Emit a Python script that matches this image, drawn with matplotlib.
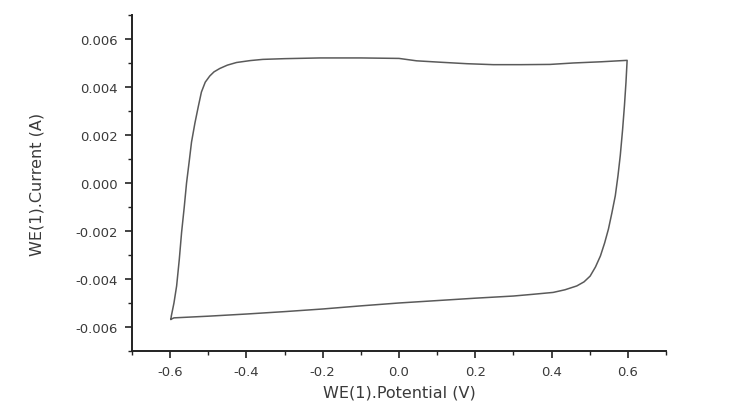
import matplotlib.pyplot as plt
from matplotlib.ticker import MultipleLocator

# Cyclic voltammogram (one closed loop)
potential = [-0.598, -0.597, -0.590, -0.583, -0.576, -0.570, -0.563, -0.557, -0.550,
             -0.544, -0.535, -0.526, -0.518, -0.508, -0.496, -0.485, -0.470, -0.450,
             -0.426, -0.390, -0.357, -0.300, -0.207, -0.100, 0.000, 0.046,
             0.110, 0.178, 0.247, 0.320, 0.396, 0.457, 0.530, 0.598,
             0.595, 0.591, 0.586, 0.580, 0.574, 0.567, 0.558, 0.549, 0.539,
             0.528, 0.515, 0.501, 0.485, 0.466, 0.435, 0.404, 0.350,
             0.300, 0.200, 0.100, 0.000, -0.100, -0.200, -0.300, -0.400, -0.500,
             -0.590, -0.598]
current = [-0.00568, -0.00555, -0.00500, -0.00429, -0.00318, -0.00206, -0.00100, 0.00000, 0.00090,
           0.00170, 0.00250, 0.00320, 0.00379, 0.00420, 0.00446, 0.00463, 0.00477, 0.00491,
           0.00502, 0.00510, 0.00515, 0.00518, 0.00521, 0.00521, 0.00519, 0.00509,
           0.00503, 0.00497, 0.00493, 0.00493, 0.00494, 0.00500, 0.00505, 0.00511,
           0.00420, 0.00323, 0.00220, 0.00114, 0.00030, -0.00053, -0.00125, -0.00192, -0.00250,
           -0.00304, -0.00350, -0.00388, -0.00412, -0.00429, -0.00445, -0.00456, -0.00464,
           -0.00471, -0.00480, -0.00490, -0.00500, -0.00512, -0.00525, -0.00536, -0.00546, -0.00555,
           -0.00562, -0.00568]

xticks = [-0.6, -0.4, -0.2, 0.0, 0.2, 0.4, 0.6]
yticks = [-0.006, -0.004, -0.002, 0.000, 0.002, 0.004, 0.006]

plt.rcParams['font.family'] = ['DejaVu Sans']

fig = plt.figure(figsize=(7.56, 4.14), dpi=100)
ax = fig.add_axes([0.1746, 0.1498, 0.7064, 0.8116])

ax.plot(potential, current, color='#5a5a5a', lw=1.1)

ax.set_xlim(-0.7, 0.7)
ax.set_ylim(-0.007, 0.007)
ax.set_xticks(xticks)
ax.set_yticks(yticks)
ax.set_xticklabels(['%.1f' % v for v in xticks])
ax.set_yticklabels(['%.3f' % v for v in yticks])
ax.xaxis.set_minor_locator(MultipleLocator(0.1))
ax.yaxis.set_minor_locator(MultipleLocator(0.001))

ax.spines['top'].set_visible(False)
ax.spines['right'].set_visible(False)
for s in ['left', 'bottom']:
    ax.spines[s].set_linewidth(1.4)
    ax.spines[s].set_color('#222222')

ax.tick_params(which='major', direction='out', length=5, width=1.2, colors='#222222',
               labelsize=9.5, labelcolor='#3a3a3a', pad=5)
ax.tick_params(which='minor', direction='out', length=3, width=1.0, colors='#222222')

ax.set_xlabel('WE(1).Potential (V)', fontsize=11.5, color='#3a3a3a', labelpad=5)
ax.set_ylabel('WE(1).Current (A)', fontsize=11.5, color='#3a3a3a')
ax.yaxis.label.set_rotation_mode('default')
ax.yaxis.label.set_verticalalignment('center')
ax.yaxis.set_label_coords(-0.178, 0.5)

plt.savefig('out.png', dpi=100)
